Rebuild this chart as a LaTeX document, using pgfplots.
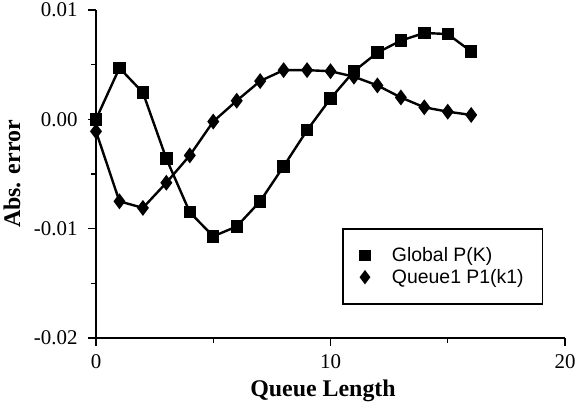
\documentclass[border=0pt]{standalone}
\usepackage{pgfplots}
\pgfplotsset{compat=1.18}
\usepackage{fontspec}
\setmainfont{Liberation Serif}
\newfontfamily\legfont{Liberation Sans}
\newcommand{\tlf}{\fontsize{21}{23}\selectfont}
\begin{document}
\begin{tikzpicture}
\path[use as bounding box] (-96bp,-70bp) rectangle (481bp,338bp);
\begin{axis}[
  at={(0,0)}, anchor=south west,
  scale only axis, width=469bp, height=328bp,
  xmin=0, xmax=20, ymin=-0.02, ymax=0.01,
  axis x line=bottom, axis y line=left,
  axis line style={-, line width=1.6pt},
  tick style={line width=1.4pt, black},
  tick align=outside,
  major tick length=8bp, minor tick length=5bp,
  scaled y ticks=false, scaled x ticks=false,
  xtick={0,10,20},
  ytick={-0.02,-0.01,0,0.01},
  xticklabel={\tlf\pgfmathprintnumber[assume math mode=true]{\tick}},
  yticklabel={\tlf\pgfmathprintnumber[assume math mode=true, fixed, fixed zerofill, precision=2]{\tick}},
  minor x tick num=1, minor y tick num=1,
  xticklabel shift=5bp,
  yticklabel shift=7bp,
  xlabel={\textbf{Queue Length}},
  ylabel={\textbf{Abs. error}},
  xlabel style={font=\fontsize{24}{26}\selectfont, at={(axis description cs:0.484,-0.162)}, anchor=center},
  ylabel style={font=\fontsize{24}{26}\selectfont, at={(axis description cs:-0.179,0.5)}, anchor=center, rotate=0},
  clip=false,
  legend style={at={(axis description cs:0.525,0.335)}, anchor=north west,
    draw=black, line width=1.5pt, font=\legfont\fontsize{19.5}{22}\selectfont,
    inner xsep=17bp, inner ysep=17bp, row sep=2bp, column sep=20bp, legend cell align=left},
]
\addplot[black, line width=2.4bp, mark=square*, mark size=5bp, forget plot] coordinates {
(0,0.0000) (1,0.0047) (2,0.00245) (3,-0.0036) (4,-0.0085) (5,-0.0107) (6,-0.0098)
(7,-0.0075) (8,-0.0043) (9,-0.0010) (10,0.0019) (11,0.0044) (12,0.0061) (13,0.0072)
(14,0.0079) (15,0.0078) (16,0.0062)};
\addplot[black, line width=2.4bp, mark=diamond*, mark size=6bp, forget plot] coordinates {
(0,-0.0011) (1,-0.0075) (2,-0.0081) (3,-0.0058) (4,-0.0033) (5,-0.0002) (6,0.0017)
(7,0.0035) (8,0.0045) (9,0.0045) (10,0.0044) (11,0.0039) (12,0.0031) (13,0.0020)
(14,0.0011) (15,0.0007) (16,0.0004)};
\addlegendimage{only marks, black, mark=square*, mark size=5bp}
\addlegendentry{Global P(K)}
\addlegendimage{only marks, black, mark=diamond*, mark size=6bp}
\addlegendentry{Queue1 P1(k1)}
\end{axis}
\end{tikzpicture}
\end{document}
